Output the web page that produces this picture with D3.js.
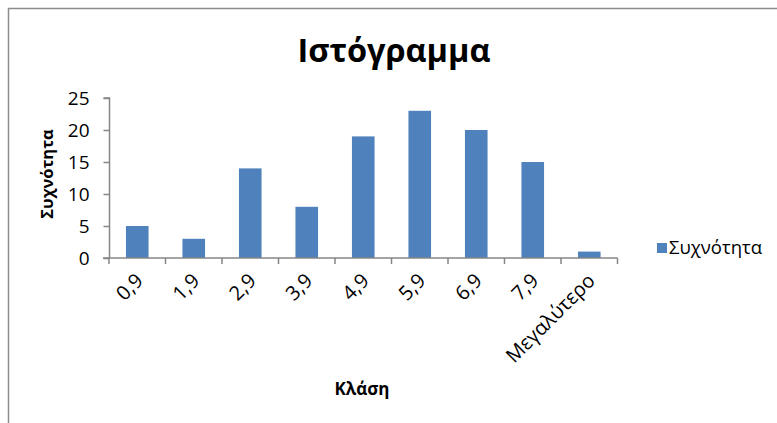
<!DOCTYPE html>
<html>
<head>
<meta charset="utf-8">
<script src="https://cdn.jsdelivr.net/npm/d3@7"></script>
<style>
	body { margin: 0; background: #fff; }
	text { font-family: "Open Sans", "Noto Sans", sans-serif; fill: #000; }
</style>
</head>
<body>
<script>

const classes = ['0,9', '1,9', '2,9', '3,9', '4,9', '5,9', '6,9', '7,9', 'Μεγαλύτερο'];
const counts = [5, 3, 14, 8, 19, 23, 20, 15, 1];
const yTicks = [0, 5, 10, 15, 20, 25];

const width = 777;
const height = 423;

const svg = d3.select('body')
	.append('svg')
	.attr('width', width)
	.attr('height', height);

// chart border (runs off the right and bottom edge)
svg.append('rect')
	.attr('x', 8.5)
	.attr('y', 8.5)
	.attr('width', 800)
	.attr('height', 500)
	.attr('fill', 'none')
	.attr('stroke', '#8c8c8c')
	.attr('stroke-width', 1.5);

const xScale = d3.scaleBand()
	.domain(classes)
	.range([109, 617.5])
	.paddingInner(0.6)
	.paddingOuter(0.3);

const yScale = d3.scaleLinear()
	.domain([0, 25])
	.range([258, 98]);

svg.selectAll('rect.bar')
	.data(counts)
	.enter()
	.append('rect')
	.attr('class', 'bar')
	.attr('fill', '#4f81bd')
	.attr('x', (d, i) => xScale(classes[i]))
	.attr('y', d => yScale(d))
	.attr('width', xScale.bandwidth())
	.attr('height', d => yScale(0) - yScale(d));

// y axis
const yAxis = d3.axisLeft(yScale).tickValues(yTicks).tickSize(6).tickPadding(14);
const gy = svg.append('g')
	.attr('transform', 'translate(109.5,0)')
	.call(yAxis);
gy.selectAll('line, path').attr('stroke', '#868686').attr('stroke-width', 1.5);
gy.select('.domain').attr('d', 'M-6,98H0V258');
gy.selectAll('text').style('font-size', '19px').style('font-family', '"Open Sans", sans-serif');

// x axis: ticks sit at band edges
const edges = d3.range(classes.length + 1).map(i => 109 + i * xScale.step());
const gx = svg.append('g');
gx.append('line')
	.attr('x1', 103).attr('x2', 617.5)
	.attr('y1', yScale(0)).attr('y2', yScale(0))
	.attr('stroke', '#868686').attr('stroke-width', 1.5);
gx.selectAll('line.tick')
	.data(edges)
	.enter()
	.append('line')
	.attr('class', 'tick')
	.attr('x1', d => d).attr('x2', d => d)
	.attr('y1', yScale(0)).attr('y2', yScale(0) + 6)
	.attr('stroke', '#868686').attr('stroke-width', 1.5);
gx.selectAll('text')
	.data(classes)
	.enter()
	.append('text')
	.attr('text-anchor', 'end')
	.style('font-size', '20px')
	.attr('transform', d => 'translate(' + (xScale(d) + xScale.bandwidth() / 2 + 7) + ',' + 282 + ') rotate(-45)')
	.text(d => d);

// titles
svg.append('text')
	.attr('x', 394)
	.attr('y', 62)
	.attr('text-anchor', 'middle')
	.style('font-size', '32.5px')
	.style('font-weight', 'bold')
	.text('Ιστόγραμμα');

svg.append('text')
	.attr('transform', 'translate(53,174) rotate(-90)')
	.attr('text-anchor', 'middle')
	.style('font-size', '16.5px')
	.style('font-weight', 'bold')
	.text('Συχνότητα');

svg.append('text')
	.attr('x', 362)
	.attr('y', 395)
	.attr('text-anchor', 'middle')
	.style('font-size', '17px')
	.style('font-weight', 'bold')
	.text('Κλάση');

// legend
svg.append('rect')
	.attr('x', 657)
	.attr('y', 243)
	.attr('width', 10)
	.attr('height', 10)
	.attr('fill', '#4f81bd');
svg.append('text')
	.attr('x', 669)
	.attr('y', 254)
	.style('font-size', '18.5px')
	.text('Συχνότητα');

</script>
</body>
</html>
